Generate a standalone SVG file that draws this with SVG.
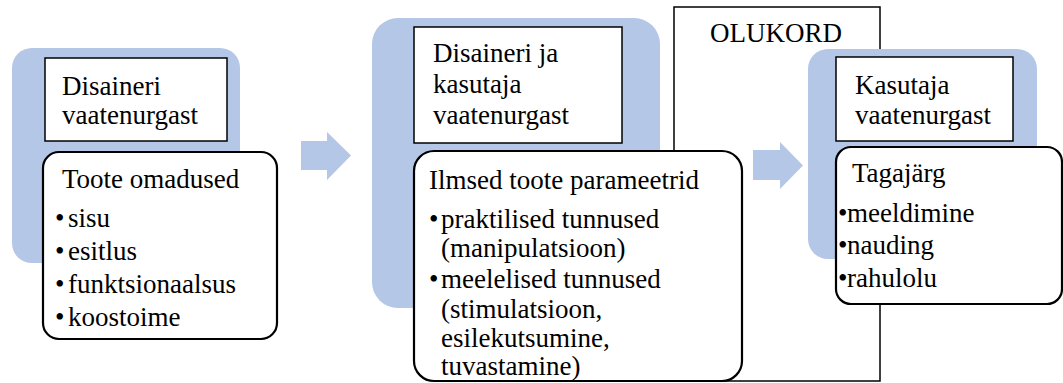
<svg xmlns="http://www.w3.org/2000/svg" width="1063" height="383" viewBox="0 0 1063 383">
<style>
.bg{fill:#B4C7E7;stroke:none}
.hd{fill:#fff;stroke:#000;stroke-width:1.5}
.bx{fill:#fff;stroke:#000;stroke-width:2.2}
.ol{fill:#fff;stroke:#000;stroke-width:1.5}
.ar{fill:#B4C7E7;stroke:none}
</style>
<rect width="1063" height="383" fill="#fff"/>
<g id="olukord">
<rect class="ol" x="674" y="7" width="206" height="374"/>
<text x="710" y="42" style="font-family:'Liberation Serif',serif !important;font-size:27px">OLUKORD</text>
</g>
<g id="connectors">
<polygon class="ar" points="301,141 327,141 327,132 351,155.5 327,180 327,170 301,170"/>
<polygon class="ar" points="753,150 780,150 780,142 803,165.5 780,189 780,180 753,180"/>
</g>
<g id="node1">
<rect class="bg" x="12" y="48" width="228" height="215" rx="20"/>
<rect class="hd" x="45" y="58" width="182" height="83"/>
<text x="62" y="95" style="font-family:'Liberation Serif',serif !important;font-size:27px">Disaineri</text>
<text x="62" y="124" style="font-family:'Liberation Serif',serif !important;font-size:27px">vaatenurgast</text>
<rect class="bx" x="43" y="152" width="234" height="187" rx="16"/>
<text x="62" y="188" style="font-family:'Liberation Serif',serif !important;font-size:27px">Toote omadused</text>
<text x="55" y="227" style="font-family:'Liberation Serif',serif !important;font-size:27px">•</text><text x="68" y="227" style="font-family:'Liberation Serif',serif !important;font-size:27px">sisu</text>
<text x="55" y="260" style="font-family:'Liberation Serif',serif !important;font-size:27px">•</text><text x="68" y="260" style="font-family:'Liberation Serif',serif !important;font-size:27px">esitlus</text>
<text x="55" y="293" style="font-family:'Liberation Serif',serif !important;font-size:27px">•</text><text x="68" y="293" style="font-family:'Liberation Serif',serif !important;font-size:27px">funktsionaalsus</text>
<text x="55" y="326" style="font-family:'Liberation Serif',serif !important;font-size:27px">•</text><text x="68" y="326" style="font-family:'Liberation Serif',serif !important;font-size:27px">koostoime</text>
</g>
<g id="node2">
<rect class="bg" x="372" y="18" width="288" height="290" rx="26"/>
<rect class="hd" x="414" y="27" width="208" height="116"/>
<text x="433" y="62" style="font-family:'Liberation Serif',serif !important;font-size:27px">Disaineri ja</text>
<text x="433" y="93" style="font-family:'Liberation Serif',serif !important;font-size:27px">kasutaja</text>
<text x="433" y="124" style="font-family:'Liberation Serif',serif !important;font-size:27px">vaatenurgast</text>
<rect class="bx" x="414" y="151" width="328" height="230" rx="20"/>
<text x="429" y="189" style="font-family:'Liberation Serif',serif !important;font-size:27px">Ilmsed toote parameetrid</text>
<text x="429" y="228" style="font-family:'Liberation Serif',serif !important;font-size:27px">•</text><text x="441" y="228" style="font-family:'Liberation Serif',serif !important;font-size:27px">praktilised tunnused</text>
<text x="441" y="257" style="font-family:'Liberation Serif',serif !important;font-size:27px">(manipulatsioon)</text>
<text x="429" y="288" style="font-family:'Liberation Serif',serif !important;font-size:27px">•</text><text x="441" y="288" style="font-family:'Liberation Serif',serif !important;font-size:27px">meelelised tunnused</text>
<text x="441" y="318" style="font-family:'Liberation Serif',serif !important;font-size:27px">(stimulatsioon,</text>
<text x="441" y="347" style="font-family:'Liberation Serif',serif !important;font-size:27px">esilekutsumine,</text>
<text x="441" y="375" style="font-family:'Liberation Serif',serif !important;font-size:27px">tuvastamine)</text>
</g>
<g id="node3">
<rect class="bg" x="808" y="49" width="229" height="210" rx="20"/>
<rect class="hd" x="836" y="57" width="177" height="84"/>
<text x="855" y="94" style="font-family:'Liberation Serif',serif !important;font-size:27px">Kasutaja</text>
<text x="855" y="124" style="font-family:'Liberation Serif',serif !important;font-size:27px">vaatenurgast</text>
<rect class="bx" x="836" y="147" width="226" height="157" rx="15"/>
<text x="852" y="182" style="font-family:'Liberation Serif',serif !important;font-size:27px">Tagajärg</text>
<text x="838" y="222" style="font-family:'Liberation Serif',serif !important;font-size:27px">•</text><text x="847" y="222" style="font-family:'Liberation Serif',serif !important;font-size:27px">meeldimine</text>
<text x="838" y="254" style="font-family:'Liberation Serif',serif !important;font-size:27px">•</text><text x="847" y="254" style="font-family:'Liberation Serif',serif !important;font-size:27px">nauding</text>
<text x="838" y="287" style="font-family:'Liberation Serif',serif !important;font-size:27px">•</text><text x="847" y="287" style="font-family:'Liberation Serif',serif !important;font-size:27px">rahulolu</text>
</g>
</svg>
